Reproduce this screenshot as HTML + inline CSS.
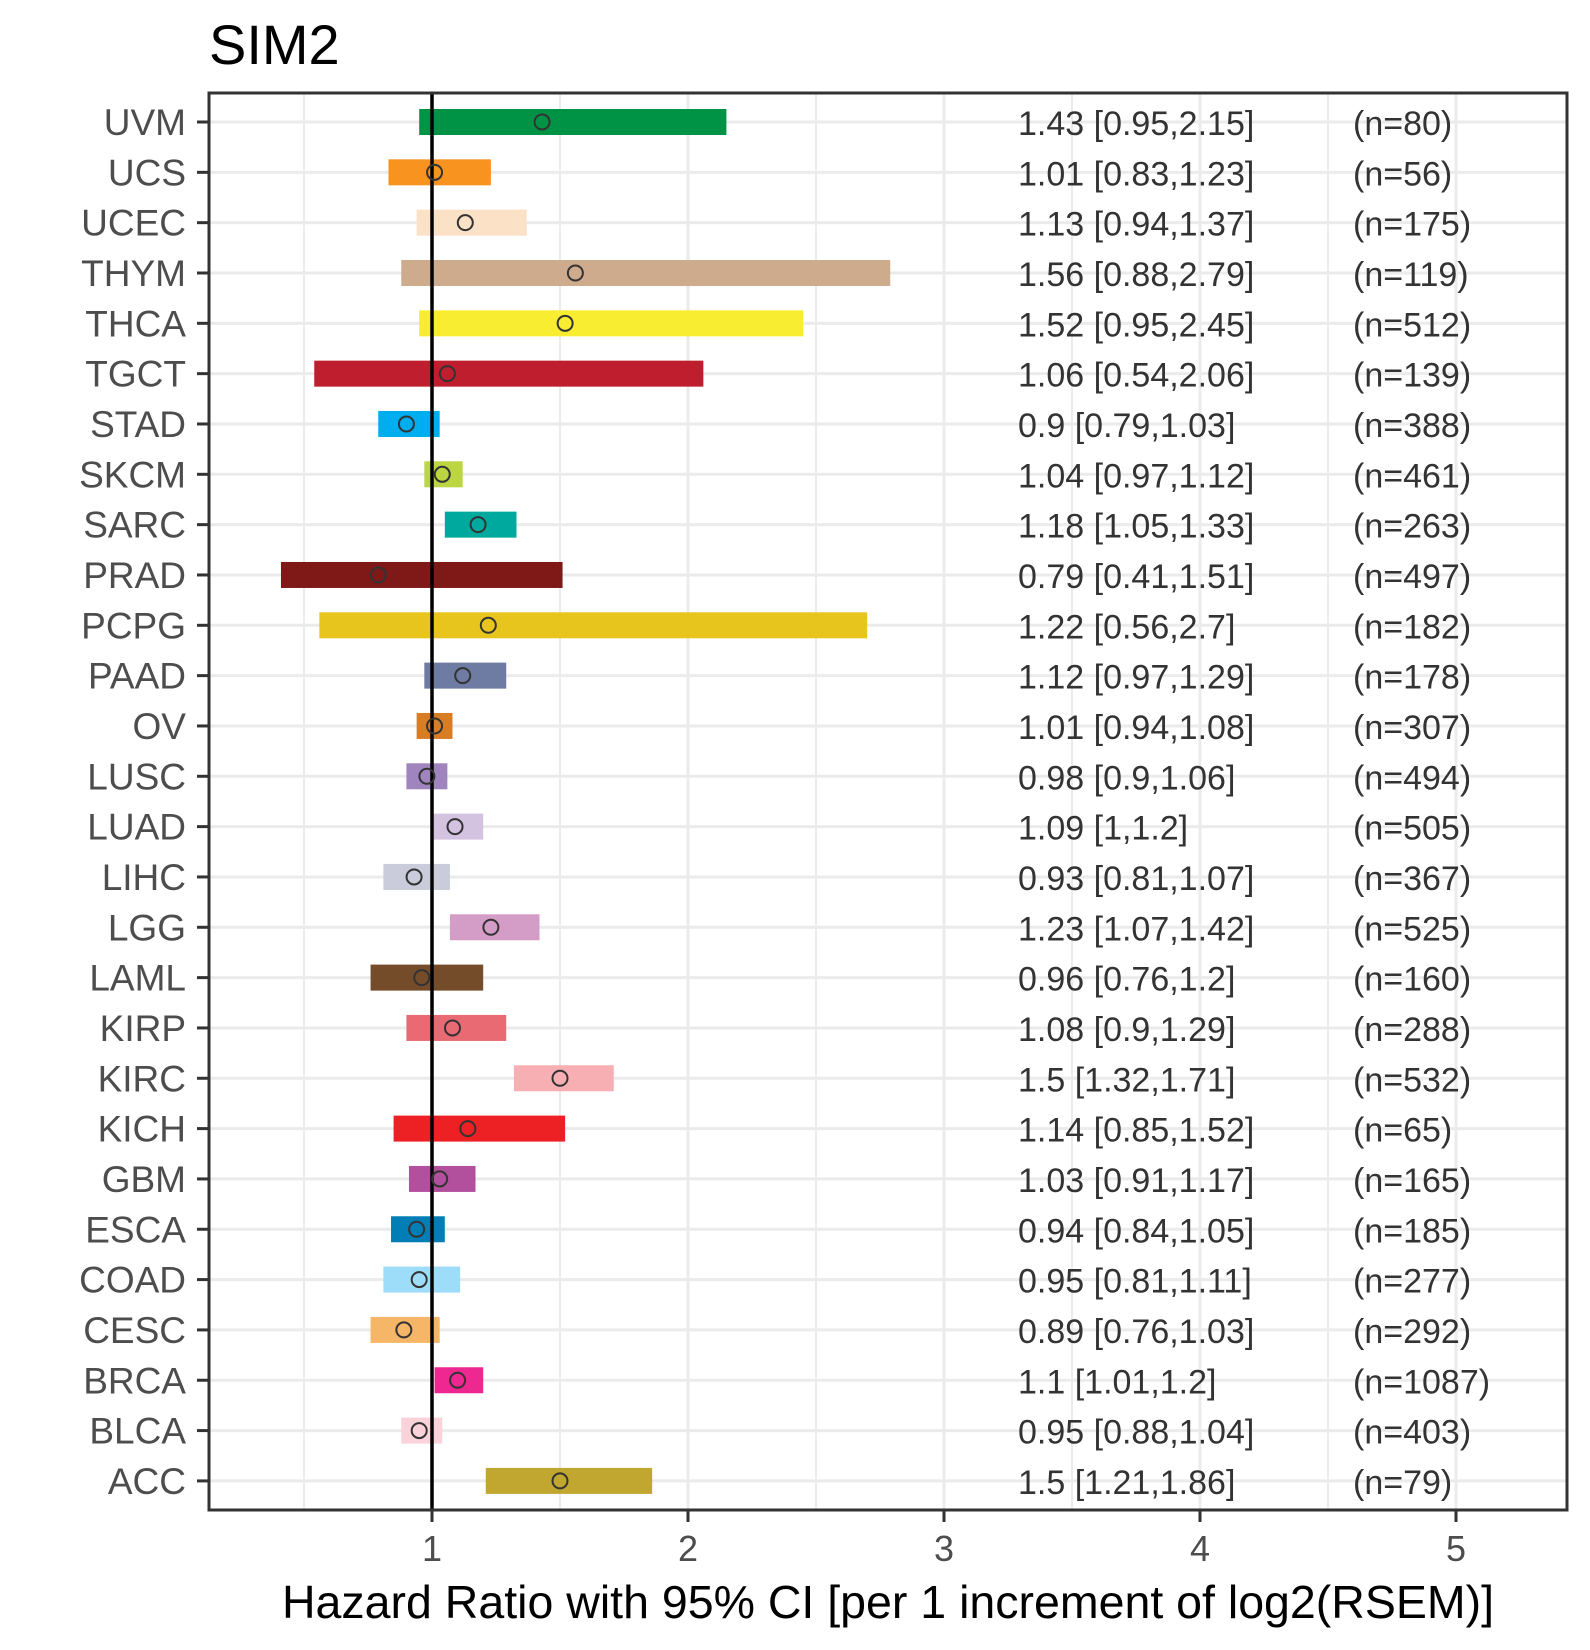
<!DOCTYPE html>
<html><head><meta charset="utf-8"><style>
html,body{margin:0;padding:0;background:#fff}
svg{display:block;font-family:"Liberation Sans",Arial,sans-serif}
</style></head><body>
<svg id="chart" width="1590" height="1650" viewBox="0 0 1590 1650">
<text x="209" y="64" font-size="56" fill="#000">SIM2</text>
<g id="grid"></g><g id="marks"></g><g id="axes"></g>
<text x="888" y="1618" font-size="46.5" text-anchor="middle" fill="#000">Hazard Ratio with 95% CI [per 1 increment of log2(RSEM)]</text>
</svg>
<script>
const cancers=["UVM","UCS","UCEC","THYM","THCA","TGCT","STAD","SKCM","SARC","PRAD","PCPG","PAAD","OV","LUSC","LUAD","LIHC","LGG","LAML","KIRP","KIRC","KICH","GBM","ESCA","COAD","CESC","BRCA","BLCA","ACC"];
const hr=[1.43,1.01,1.13,1.56,1.52,1.06,0.9,1.04,1.18,0.79,1.22,1.12,1.01,0.98,1.09,0.93,1.23,0.96,1.08,1.5,1.14,1.03,0.94,0.95,0.89,1.1,0.95,1.5];
const lower=[0.95,0.83,0.94,0.88,0.95,0.54,0.79,0.97,1.05,0.41,0.56,0.97,0.94,0.9,1,0.81,1.07,0.76,0.9,1.32,0.85,0.91,0.84,0.81,0.76,1.01,0.88,1.21];
const upper=[2.15,1.23,1.37,2.79,2.45,2.06,1.03,1.12,1.33,1.51,2.7,1.29,1.08,1.06,1.2,1.07,1.42,1.2,1.29,1.71,1.52,1.17,1.05,1.11,1.03,1.2,1.04,1.86];
const labels=["1.43 [0.95,2.15]","1.01 [0.83,1.23]","1.13 [0.94,1.37]","1.56 [0.88,2.79]","1.52 [0.95,2.45]","1.06 [0.54,2.06]","0.9 [0.79,1.03]","1.04 [0.97,1.12]","1.18 [1.05,1.33]","0.79 [0.41,1.51]","1.22 [0.56,2.7]","1.12 [0.97,1.29]","1.01 [0.94,1.08]","0.98 [0.9,1.06]","1.09 [1,1.2]","0.93 [0.81,1.07]","1.23 [1.07,1.42]","0.96 [0.76,1.2]","1.08 [0.9,1.29]","1.5 [1.32,1.71]","1.14 [0.85,1.52]","1.03 [0.91,1.17]","0.94 [0.84,1.05]","0.95 [0.81,1.11]","0.89 [0.76,1.03]","1.1 [1.01,1.2]","0.95 [0.88,1.04]","1.5 [1.21,1.86]"];
const counts=[80,56,175,119,512,139,388,461,263,497,182,178,307,494,505,367,525,160,288,532,65,165,185,277,292,1087,403,79];
const colors=["#009245","#F7931E","#FBE1C5","#CFAB8D","#F9ED32","#BE1E2D","#00AEEF","#BBD642","#00A99D","#7E1918","#E8C51D","#6E7BA2","#D97D25","#A084BD","#D3C3E0","#CACCDB","#D49DC7","#754C29","#EA6A73","#F8AFB3","#ED2024","#B2509E","#007EB5","#9EDDF9","#F6B667","#ED2891","#FAD2D9","#C1A72F"];
const xTicks=[1,2,3,4,5];
const xMinor=[0.5,1.5,2.5,3.5,4.5];

const L=209,R=1567,T=93,B=1510;
const X=v=>432+(v-1)*256;
const Y=i=>122+i*50.33;
const NS="http://www.w3.org/2000/svg";
function mk(parent,tag,attrs){const e=document.createElementNS(NS,tag);for(const k in attrs)e.setAttribute(k,attrs[k]);parent.appendChild(e);return e;}
const grid=document.getElementById('grid'),marks=document.getElementById('marks'),axes=document.getElementById('axes');

xMinor.forEach(v=>{const e=mk(grid,'line',{x1:X(v),x2:X(v),y1:T,y2:B,stroke:'#ebebeb','stroke-width':2});

});
xTicks.forEach(v=>{const e=mk(grid,'line',{x1:X(v),x2:X(v),y1:T,y2:B,stroke:'#ebebeb','stroke-width':3});

});
cancers.forEach((c,i)=>{const e=mk(grid,'line',{x1:L,x2:R,y1:Y(i),y2:Y(i),stroke:'#ebebeb','stroke-width':3});

});

cancers.forEach((c,i)=>{
 const b=mk(marks,'rect',{x:X(lower[i]),y:Y(i)-13,width:X(upper[i])-X(lower[i]),height:26,fill:colors[i]});
 
 
});
const ref=mk(marks,'line',{x1:X(1),x2:X(1),y1:T,y2:B,stroke:'#000','stroke-width':3.5});


cancers.forEach((c,i)=>{
 const p=mk(marks,'circle',{cx:X(hr[i]),cy:Y(i),r:7.5,fill:'none',stroke:'#333','stroke-width':2});
 
 
 const t=mk(marks,'text',{x:1018,y:Y(i)+13,'font-size':34,fill:'#333'});t.textContent=labels[i];
 
 
 const n=mk(marks,'text',{x:1353,y:Y(i)+13,'font-size':34,fill:'#333'});n.textContent='(n='+counts[i]+')';
 
 
 const tk=mk(axes,'line',{x1:197,x2:L,y1:Y(i),y2:Y(i),stroke:'#333','stroke-width':3});
 
 
 const yl=mk(axes,'text',{x:186,y:Y(i)+13,'font-size':37,fill:'#4d4d4d','text-anchor':'end'});yl.textContent=c;
 
 
});
xTicks.forEach(v=>{
 const tk=mk(axes,'line',{x1:X(v),x2:X(v),y1:B,y2:B+12,stroke:'#333','stroke-width':3});
 
 
 const tl=mk(axes,'text',{x:X(v),y:1561,'font-size':36,fill:'#4d4d4d','text-anchor':'middle'});tl.textContent=v;
 
 
});
const fr=mk(axes,'rect',{x:L,y:T,width:R-L,height:B-T,fill:'none',stroke:'#333','stroke-width':3});


</script>
</body></html>
